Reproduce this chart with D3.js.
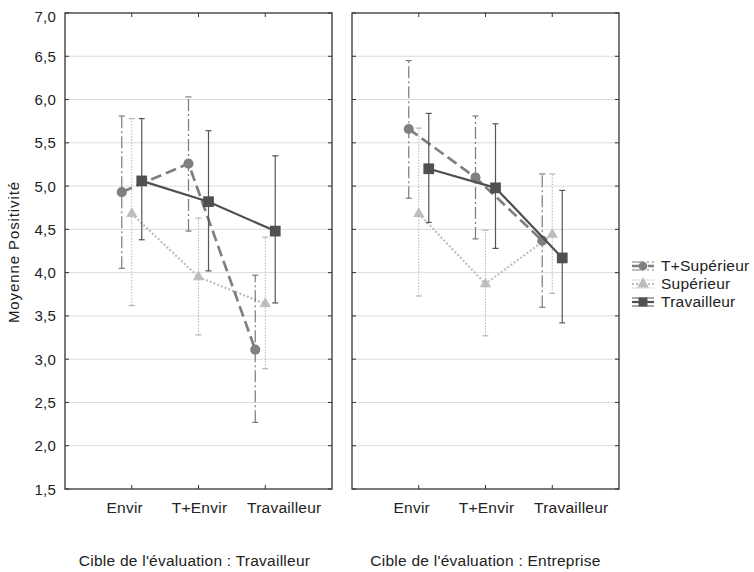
<!DOCTYPE html>
<html>
<head>
<meta charset="utf-8">
<style>
body { margin: 0; background: #fff; font-family: "Liberation Sans", Arial, sans-serif; }
text { fill: #222; letter-spacing: 0.25px; }
</style>
</head>
<body>
<div id="chart"></div>
<script src="https://d3js.org/d3.v7.min.js"></script>
<script>

// categories and labels
var categories = ["Envir", "T+Envir", "Travailleur"];
var panelTitles = ["Cible de l'évaluation : Travailleur", "Cible de l'évaluation : Entreprise"];
var seriesNames = ["T+Supérieur", "Supérieur", "Travailleur"];
var yTicks = [1.5, 2.0, 2.5, 3.0, 3.5, 4.0, 4.5, 5.0, 5.5, 6.0, 6.5, 7.0];

// values, one row per panel
var tSupMean = [[4.93, 5.26, 3.11], [5.66, 5.10, 4.37]];
var tSupLow  = [[4.05, 4.48, 2.27], [4.86, 4.39, 3.60]];
var tSupHigh = [[5.81, 6.03, 3.97], [6.45, 5.81, 5.14]];

var supMean = [[4.68, 3.95, 3.64], [4.68, 3.87, 4.44]];
var supLow  = [[3.62, 3.28, 2.89], [3.73, 3.27, 3.76]];
var supHigh = [[5.78, 4.63, 4.41], [5.67, 4.49, 5.14]];

var travMean = [[5.06, 4.82, 4.48], [5.20, 4.98, 4.17]];
var travLow  = [[4.38, 4.02, 3.65], [4.58, 4.28, 3.42]];
var travHigh = [[5.78, 5.64, 5.35], [5.84, 5.72, 4.95]];

var styles = {
  "T+Supérieur": {color: "#808080", lineDash: "11,5", barDash: "12,3,2,3", lineWidth: 2.7, barWidth: 1.2, barColor: "#7a7a7a"},
  "Supérieur":   {color: "#bdbdbd", lineDash: "2,2", barDash: "1.5,1.5", lineWidth: 2.2, barWidth: 1, barColor: "#b5b5b5"},
  "Travailleur": {color: "#505050", lineDash: null, barDash: null, lineWidth: 2.2, barWidth: 1.2, barColor: "#555"}
};

function seriesData(p) {
  return [
    {name: "Supérieur", mean: supMean[p], low: supLow[p], high: supHigh[p], shape: "triangle"},
    {name: "T+Supérieur", mean: tSupMean[p], low: tSupLow[p], high: tSupHigh[p], shape: "circle"},
    {name: "Travailleur", mean: travMean[p], low: travLow[p], high: travHigh[p], shape: "square"}
  ];
}

var W = 754, H = 572;
var panelLeft = [65, 352], panelW = 267;
var plotTop = 13, plotBottom = 489;
var labelShift = [-7, 1, 19];   // tick labels sit a bit off their ticks in the original
var titleShift = [-4, 0];

var svg = d3.select("#chart").append("svg")
    .attr("width", W)
    .attr("height", H);

var y = d3.scaleLinear().domain([1.5, 7.0]).range([plotBottom, plotTop]);
var offset = d3.scalePoint().domain(seriesNames).range([-10, 10]);

var symbols = {
  circle: d3.symbol().type(d3.symbolCircle).size(80),
  triangle: d3.symbol().type(d3.symbolTriangle).size(55),
  square: d3.symbol().type(d3.symbolSquare).size(115)
};

panelLeft.forEach(function(x0, p) {
  var x = d3.scalePoint().domain(categories).range([x0, x0 + panelW]).padding(1);
  var g = svg.append("g");

  // grid
  g.selectAll(".grid")
      .data(yTicks.slice(1, -1))
    .enter().append("line")
      .attr("x1", x0).attr("x2", x0 + panelW)
      .attr("y1", function(d) { return y(d); })
      .attr("y2", function(d) { return y(d); })
      .attr("stroke", "#dcdcdc").attr("stroke-width", 1);

  // inward ticks
  g.selectAll(".yt")
      .data(yTicks)
    .enter().append("path")
      .attr("d", function(d) {
        return "M" + x0 + "," + y(d) + "h4M" + (x0 + panelW) + "," + y(d) + "h-4";
      })
      .attr("stroke", "#333");
  g.selectAll(".xt")
      .data(categories)
    .enter().append("path")
      .attr("d", function(d) {
        return "M" + x(d) + "," + plotTop + "v4M" + x(d) + "," + plotBottom + "v-4";
      })
      .attr("stroke", "#333");

  g.append("rect")
      .attr("x", x0).attr("y", plotTop)
      .attr("width", panelW).attr("height", plotBottom - plotTop)
      .attr("fill", "none").attr("stroke", "#333").attr("stroke-width", 1.3);

  // x tick labels
  g.selectAll(".xl")
      .data(categories)
    .enter().append("text")
      .attr("x", function(d, i) { return x(d) + labelShift[i]; })
      .attr("y", 513)
      .attr("text-anchor", "middle")
      .style("font-size", "15.5px")
      .text(function(d) { return d; });

  g.append("text")
      .attr("x", x(categories[1]) + titleShift[p])
      .attr("y", 566)
      .attr("text-anchor", "middle")
      .style("font-size", "15.5px")
      .text(panelTitles[p]);

  seriesData(p).forEach(function(s) {
    var st = styles[s.name];
    var px = function(i) { return x(categories[i]) + offset(s.name); };
    var idx = d3.range(categories.length);

    // error bars
    idx.forEach(function(i) {
      g.append("line")
          .attr("x1", px(i)).attr("x2", px(i))
          .attr("y1", y(s.low[i])).attr("y2", y(s.high[i]))
          .attr("stroke", st.barColor).attr("stroke-width", st.barWidth)
          .attr("stroke-dasharray", st.barDash);
      [s.low[i], s.high[i]].forEach(function(v) {
        g.append("line")
            .attr("x1", px(i) - 3).attr("x2", px(i) + 3)
            .attr("y1", y(v)).attr("y2", y(v))
            .attr("stroke", st.barColor).attr("stroke-width", 1.2);
      });
    });

    var line = d3.line()
        .x(function(i) { return px(i); })
        .y(function(i) { return y(s.mean[i]); });
    g.append("path")
        .attr("d", line(idx))
        .attr("fill", "none")
        .attr("stroke", st.color)
        .attr("stroke-width", st.lineWidth)
        .attr("stroke-dasharray", st.lineDash);

    g.selectAll(".m")
        .data(idx)
      .enter().append("path")
        .attr("d", symbols[s.shape])
        .attr("transform", function(i) { return "translate(" + px(i) + "," + y(s.mean[i]) + ")"; })
        .attr("fill", st.color);
  });
});

// y axis labels
svg.selectAll(".yl")
    .data(yTicks)
  .enter().append("text")
    .attr("x", 56)
    .attr("y", function(d) { return Math.max(y(d), 16) + 5.5; })
    .attr("text-anchor", "end")
    .style("font-size", "15px")
    .text(function(d) { return d3.format(".1f")(d).replace(".", ","); });

svg.append("text")
    .attr("transform", "translate(19,252) rotate(-90)")
    .attr("text-anchor", "middle")
    .style("font-size", "15px")
    .style("letter-spacing", "0.9px")
    .text("Moyenne Positivité");

// legend
var legend = svg.append("g");
var legendShapes = {"T+Supérieur": d3.symbolCircle, "Supérieur": d3.symbolTriangle, "Travailleur": d3.symbolSquare};
seriesNames.forEach(function(name, i) {
  var st = styles[name];
  var ly = 266 + i * 18;
  var row = legend.append("g").attr("transform", "translate(643," + ly + ")");
  row.append("line").attr("x1", -11).attr("x2", 11).attr("y1", -4).attr("y2", -4)
      .attr("stroke", st.barColor).attr("stroke-width", 1).attr("stroke-dasharray", st.barDash);
  row.append("line").attr("x1", -11).attr("x2", 11).attr("y1", 4).attr("y2", 4)
      .attr("stroke", st.barColor).attr("stroke-width", 1).attr("stroke-dasharray", st.barDash);
  row.append("line").attr("x1", -11).attr("x2", 11).attr("y1", 0).attr("y2", 0)
      .attr("stroke", st.color).attr("stroke-width", st.lineWidth).attr("stroke-dasharray", st.lineDash);
  row.append("path")
      .attr("d", d3.symbol().type(legendShapes[name]).size(name === "Travailleur" ? 80 : 60))
      .attr("fill", st.color);
  row.append("text")
      .attr("x", 18).attr("y", 5)
      .style("font-size", "15.5px")
      .text(name);
});

</script>
</body>
</html>
